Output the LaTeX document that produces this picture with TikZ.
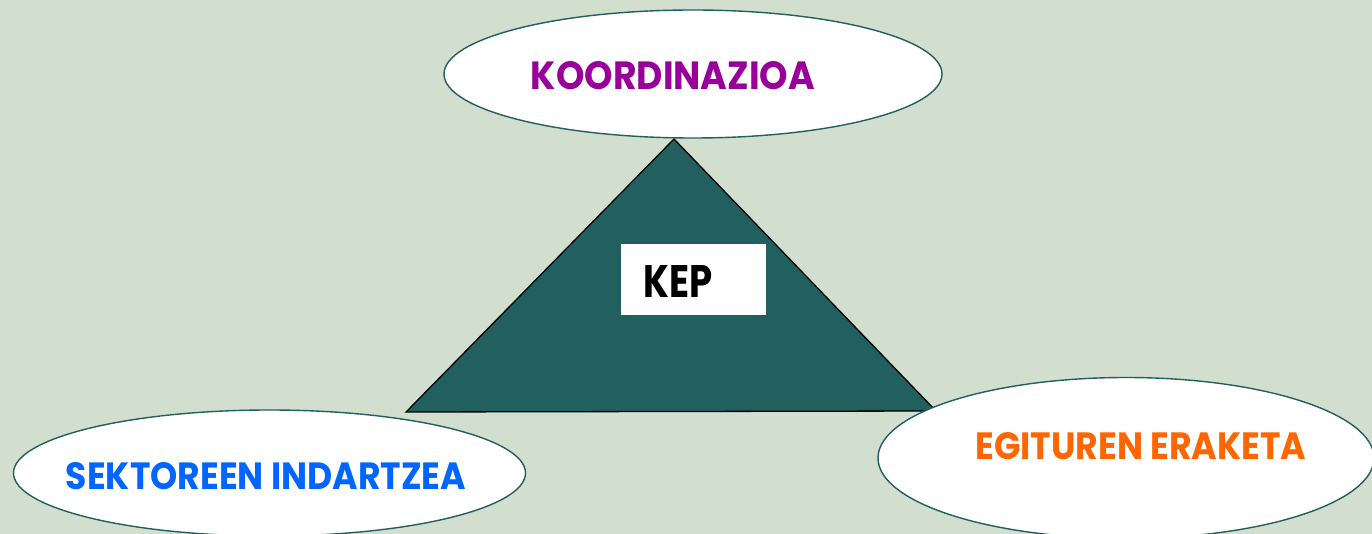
\documentclass[tikz,border=0pt]{standalone}
\usepackage{fontspec}
\setmainfont{Poppins}
\usetikzlibrary{shapes.geometric}
\definecolor{bgc}{HTML}{D2DECE}
\definecolor{teal}{HTML}{225F5F}
\definecolor{kpurple}{HTML}{990099}
\definecolor{kblue}{HTML}{0066FF}
\definecolor{korange}{HTML}{FF6600}
\tikzset{
  oval/.style={ellipse, draw=teal, line width=1.4pt, fill=white, inner sep=0pt},
  lab/.style={inner sep=0pt, font=\bfseries},
}
\begin{document}
\begin{tikzpicture}[x=1pt,y=-1pt]
\useasboundingbox (0,0) rectangle (1372,534);
\clip (0,0) rectangle (1372,534);
\fill[bgc] (0,0) rectangle (1372,534);
% triangle
\coordinate (apex) at (674,139);
\coordinate (bl) at (406,412);
\coordinate (br) at (936,411);
\draw[fill=teal, draw=black, line width=1.3pt, line join=miter] (apex) -- (br) -- (bl) -- cycle;
% KEP box
\node[fill=white, minimum width=145pt, minimum height=71pt, inner sep=0pt] (kepbox) at (693.5,279.5) {};
\node[lab, anchor=west] (kep) at (643,281) {\resizebox{69pt}{32pt}{KEP}};
% ellipses
\node[oval, minimum width=498pt, minimum height=128pt] (top) at (693,74) {};
\node[lab, text=kpurple] (toplab) at (673,75.5) {\resizebox{284pt}{28pt}{KOORDINAZIOA}};
\node[oval, minimum width=512pt, minimum height=126pt] (left) at (269.5,473) {};
\node[lab, text=kblue] (leftlab) at (266,476) {\resizebox{400pt}{27pt}{SEKTOREEN INDARTZEA}};
\node[oval, minimum width=496pt, minimum height=161pt] (right) at (1126,458) {};
\node[lab, text=korange] (rightlab) at (1141,446.5) {\resizebox{331pt}{27pt}{EGITUREN ERAKETA}};
\end{tikzpicture}
\end{document}
